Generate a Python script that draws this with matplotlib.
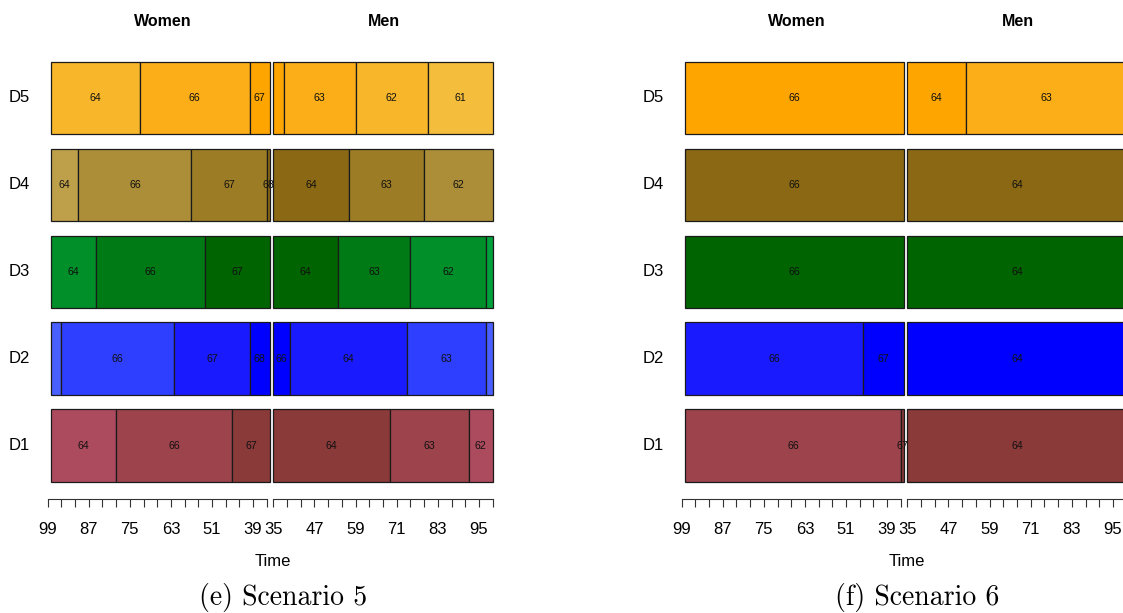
import matplotlib
matplotlib.use("Agg")
import matplotlib.pyplot as plt
import numpy as np

# rows from bottom to top
rows = ["D1", "D2", "D3", "D4", "D5"]

# Scenario 5: segment break ages and state labels per row
s5_women_edges = [
    [98, 79, 45, 34],
    [98, 95, 62, 40, 34],
    [98, 85, 53, 34],
    [98, 90, 57, 35, 34],
    [98, 72, 40, 34],
]
s5_women_labels = [
    ["64", "66", "67"],
    ["", "66", "67", "68"],
    ["64", "66", "67"],
    ["64", "66", "67", "68"],
    ["64", "66", "67"],
]
s5_men_edges = [
    [35, 69, 92, 99],
    [35, 40, 74, 97, 99],
    [35, 54, 75, 97, 99],
    [35, 57, 79, 99],
    [35, 38, 59, 80, 99],
]
s5_men_labels = [
    ["64", "63", "62"],
    ["66", "64", "63", ""],
    ["64", "63", "62", ""],
    ["64", "63", "62"],
    ["", "63", "62", "61"],
]

# Scenario 6
s6_women_edges = [
    [98, 35, 34],
    [98, 46, 34],
    [98, 34],
    [98, 34],
    [98, 34],
]
s6_women_labels = [["66", "67"], ["66", "67"], ["66"], ["66"], ["66"]]
s6_men_edges = [[35, 99], [35, 99], [35, 99], [35, 99], [35, 52, 99]]
s6_men_labels = [["64"], ["64"], ["64"], ["64"], ["64", "63"]]

women_ticks = np.arange(99, 34, -4)
women_ticklabels = ["99", "87", "75", "63", "51", "39"]
men_ticks = np.arange(35, 100, 4)
men_ticklabels = ["35", "47", "59", "71", "83", "95"]

# shades per row, darkest next to the centre line
shades = [
    ["#8B3A3A", "#9C434C", "#AD4B5E", "#BE5470"],
    ["#0000FF", "#1A1AFF", "#2E3FFF", "#4A5FFF"],
    ["#006400", "#007A14", "#008F28", "#00A03A"],
    ["#8B6914", "#9C7C25", "#AD8E38", "#BFA04A"],
    ["#FFA500", "#FBAE17", "#F8B62A", "#F4BE3C"],
]

W, H = 1123, 613
fig = plt.figure(figsize=(W / 100, H / 100), dpi=100)
sans = "Liberation Sans"
plt.rcParams["font.family"] = [sans, "DejaVu Sans"]


def px_axes(x0, x1, y0, y1):
    return fig.add_axes([x0 / W, 1 - y1 / H, (x1 - x0) / W, (y1 - y0) / H])


def sparse_labels(ticks, shown):
    out = []
    for t in ticks:
        out.append(str(t) if str(t) in shown else "")
    return out


def draw_half(ax, edges, labels, women):
    for i, (e, lab) in enumerate(zip(edges, labels)):
        n = len(e) - 1
        for j in range(n):
            k = (n - 1 - j) if women else j
            ax.barh(i + 1, e[j + 1] - e[j], left=e[j], height=0.834,
                    color=shades[i][k], edgecolor="#1a1a1a", linewidth=0.9,
                    clip_on=False)
            if lab[j]:
                ax.text((e[j] + e[j + 1]) / 2, i + 1, lab[j], ha="center",
                        va="center", fontsize=7.7, color="#111111",
                        clip_on=False)
    ax.set_ylim(0.5, 5.5)
    ax.set_yticks([])
    for s in ["top", "left", "right"]:
        ax.spines[s].set_visible(False)
    ax.spines["bottom"].set_position(("outward", 7.2))
    ax.spines["bottom"].set_bounds(35, 99)
    ax.spines["bottom"].set_color("#333333")
    ax.spines["bottom"].set_linewidth(0.8)
    ax.tick_params(axis="x", direction="out", length=5.4, width=0.8,
                   color="#333333", pad=11.5, labelsize=12)
    ax.patch.set_visible(False)


def draw_scenario(dx, w_edges, w_labels, m_edges, m_labels, caption):
    top, bottom = 54.5, 489.0
    axw = px_axes(47.7 + dx, 270.1 + dx, top, bottom)
    axw.set_xlim(99, 34)
    draw_half(axw, w_edges, w_labels, True)
    axw.set_xticks(women_ticks)
    axw.set_xticklabels(sparse_labels(women_ticks, women_ticklabels))

    axm = px_axes(273.3 + dx, 492.7 + dx, top, bottom)
    axm.set_xlim(35, 99)
    draw_half(axm, m_edges, m_labels, False)
    axm.set_xticks(men_ticks)
    axm.set_xticklabels(sparse_labels(men_ticks, men_ticklabels))

    fig.text((162.5 + dx) / W, 1 - 22 / H, "Women", ha="center", va="center",
             fontsize=11.5, fontweight="bold")
    fig.text((384 + dx) / W, 1 - 22 / H, "Men", ha="center", va="center",
             fontsize=11.5, fontweight="bold")
    for i, r in enumerate(rows):
        yc = 445.5 - i * 86.9
        fig.text((19 + dx) / W, 1 - yc / H, r, ha="center", va="center",
                 fontsize=12)
    fig.text((273 + dx) / W, 1 - 561 / H, "Time", ha="center", va="center",
             fontsize=12)
    fig.text((283 + dx) / W, 1 - 597 / H, caption, ha="center", va="center",
             fontsize=20, family="cmr10")


draw_scenario(0, s5_women_edges, s5_women_labels, s5_men_edges, s5_men_labels,
              "(e) Scenario 5")
draw_scenario(634, s6_women_edges, s6_women_labels, s6_men_edges, s6_men_labels,
              "(f) Scenario 6")

fig.savefig("out.png", dpi=100)
